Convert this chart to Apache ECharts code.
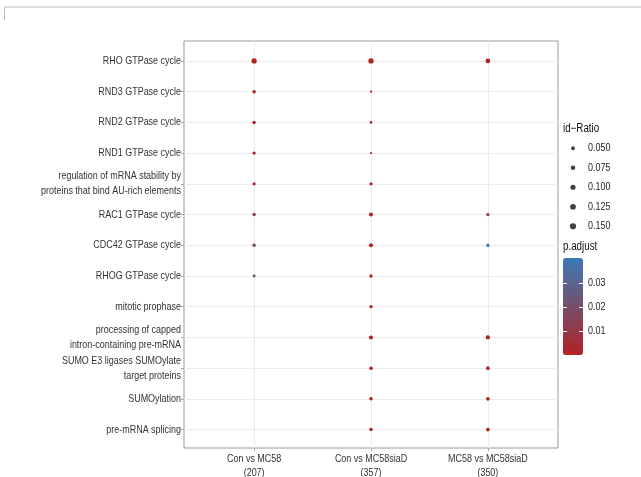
<!DOCTYPE html>
<html><head><meta charset="utf-8">
<script src="https://cdn.jsdelivr.net/npm/echarts@6/dist/echarts.min.js"></script>
<style>html,body{margin:0;padding:0;background:#fff}#c{width:641px;height:477px}</style>
</head><body><div id="c"></div>
<script>
var terms = ['RHO GTPase cycle','RND3 GTPase cycle','RND2 GTPase cycle','RND1 GTPase cycle',
  'regulation of mRNA stability by\nproteins that bind AU-rich elements','RAC1 GTPase cycle',
  'CDC42 GTPase cycle','RHOG GTPase cycle','mitotic prophase',
  'processing of capped\nintron-containing pre-mRNA','SUMO E3 ligases SUMOylate\ntarget proteins',
  'SUMOylation','pre-mRNA splicing'];
var groups = ['Con vs MC58\n(207)','Con vs MC58siaD\n(357)','MC58 vs MC58siaD\n(350)'];
var ratioConMC58 = [0.107,0.041,0.041,0.035,0.035,0.041,0.041,0.027,null,null,null,null,null];
var padjConMC58  = [0.0005,0.002,0.002,0.003,0.003,0.015,0.019,0.021,null,null,null,null,null];
var ratioConSiaD = [0.107,0.012,0.02,0.008,0.035,0.057,0.057,0.035,0.035,0.057,0.041,0.041,0.041];
var padjConSiaD  = [0.0003,0.001,0.001,0.002,0.001,0.0005,0.0005,0.001,0.001,0.0004,0.0005,0.0005,0.0005];
var ratioMC58SiaD = [0.082,null,null,null,null,0.035,0.035,null,null,0.067,0.047,0.047,0.047];
var padjMC58SiaD  = [0.001,null,null,null,null,0.011,0.0405,null,null,0.0008,0.001,0.001,0.001];
var sizeBreaks = [0.050,0.075,0.100,0.125,0.150];
var padjTicks = [0.01,0.02,0.03];
var padjMin = 0.0001, padjMax = 0.0405;

var ratios = [ratioConMC58, ratioConSiaD, ratioMC58SiaD];
var padjs = [padjConMC58, padjConSiaD, padjMC58SiaD];
var pts = [];
for (var g = 0; g < groups.length; g++) {
  for (var t = 0; t < terms.length; t++) {
    if (ratios[g][t] != null) pts.push([g, t, ratios[g][t], padjs[g][t]]);
  }
}
function dia(r){ return Math.sqrt(2.44 + 240 * r); }
var FONT = "'Liberation Sans',Arial,sans-serif";
var SX = 0.815;
var idx = function(n){ var a=[]; for(var i=0;i<n;i++) a.push(i); return a; };

var chart = echarts.init(document.getElementById('c'), null, {renderer:'canvas'});
chart.setOption({
  animation:false,
  backgroundColor:'#fff',
  textStyle:{fontFamily:FONT},
  grid:[
    {left:184, top:41, width:374, height:407, show:true, borderColor:'#999', borderWidth:1, backgroundColor:'transparent'},
    {left:563, top:138.5, width:20, height:97.5, show:false},
    {left:563, top:258, width:20, height:97, show:false}
  ],
  xAxis:[
    {type:'value', gridIndex:0, min:-0.6, max:2.6, position:'bottom',
     axisLine:{show:false, onZero:false},
     axisTick:{show:true, length:3, customValues:idx(groups.length), lineStyle:{color:'#AAA'}},
     axisLabel:{show:false},
     splitLine:{show:true, lineStyle:{color:'#EBEBEB', width:1}}},
    {type:'value', gridIndex:1, min:-1, max:1, show:false},
    {type:'value', gridIndex:2, min:0, max:1, show:false}
  ],
  yAxis:[
    {type:'value', gridIndex:0, min:-0.65, max:12.6, inverse:true,
     axisLine:{show:false, onZero:false},
     axisTick:{show:true, length:3, customValues:idx(terms.length), lineStyle:{color:'#AAA'}},
     axisLabel:{show:false},
     splitLine:{show:true, lineStyle:{color:'#EBEBEB', width:1}}},
    {type:'value', gridIndex:1, min:-0.5, max:4.5, inverse:true, show:false},
    {type:'value', gridIndex:2, min:padjMin, max:padjMax, position:'left', z:10,
     axisLine:{show:false, onZero:false}, splitLine:{show:false},
     axisTick:{show:true, inside:true, length:4, customValues:padjTicks, lineStyle:{color:'#fff', width:1}},
     axisLabel:{show:false}},
    {type:'value', gridIndex:2, min:padjMin, max:padjMax, position:'right', z:10,
     axisLine:{show:false, onZero:false}, splitLine:{show:false},
     axisTick:{show:true, inside:true, length:4, customValues:padjTicks, lineStyle:{color:'#fff', width:1}},
     axisLabel:{show:false}}
  ],
  visualMap:[{
    type:'continuous', seriesIndex:0, dimension:3, min:padjMin, max:padjMax,
    left:563, top:258, itemWidth:20, itemHeight:97, padding:0,
    text:null, calculable:false, hoverLink:false, realtime:false,
    inRange:{color:['#B22222','#3A7AB6']}
  }],
  series:[
    {type:'scatter', xAxisIndex:0, yAxisIndex:0, data:pts, symbol:'circle',
     symbolSize:function(d){return dia(d[2]);}, encode:{x:0,y:1},
     itemStyle:{opacity:1}, z:5},
    {type:'scatter', xAxisIndex:1, yAxisIndex:1, symbol:'circle',
     data:sizeBreaks.map(function(s,i){return [0,i,s];}),
     symbolSize:function(d){return dia(d[2]);}, encode:{x:0,y:1},
     itemStyle:{color:'#111'}}
  ]
});

// Text labels placed through the library's own axis scales, drawn narrow.
var G = [
  {type:'line', shape:{x1:4,y1:7,x2:641,y2:7}, style:{stroke:'#DDDDDD', lineWidth:2}, silent:true},
  {type:'line', shape:{x1:4.5,y1:7,x2:4.5,y2:20}, style:{stroke:'#BBBBBB', lineWidth:1}, silent:true}
];
function txt(x, y, s, opt){
  opt = opt || {};
  G.push({type:'text', x:x, y:y, scaleX:SX, silent:true, z:20,
    style:{text:s, align:opt.align||'left', verticalAlign:opt.va||'middle',
      font:(opt.size||11)+'px '+FONT, lineHeight:opt.lh||14, fill:opt.fill||'#333'}});
}
var leftX = chart.convertToPixel({xAxisIndex:0}, -0.6);
var bottomY = chart.convertToPixel({yAxisIndex:0}, 12.6);
terms.forEach(function(t, i){
  txt(leftX - 3, chart.convertToPixel({yAxisIndex:0}, i), t, {align:'right', lh:15});
});
groups.forEach(function(g, i){
  txt(chart.convertToPixel({xAxisIndex:0}, i), bottomY + 4, g, {align:'center', va:'top', lh:14});
});
var lgX = chart.convertToPixel({xAxisIndex:1}, 0);
sizeBreaks.forEach(function(s, i){
  txt(lgX + 15, chart.convertToPixel({yAxisIndex:1}, i), s.toFixed(3), {fill:'#222'});
});
padjTicks.forEach(function(v){
  txt(588, chart.convertToPixel({yAxisIndex:3}, v), v.toFixed(2), {fill:'#222'});
});
txt(563, 129, 'id\u2212Ratio', {size:12, fill:'#111'});
txt(563, 247, 'p.adjust', {size:12, fill:'#111'});
chart.setOption({graphic:G});
</script></body></html>
